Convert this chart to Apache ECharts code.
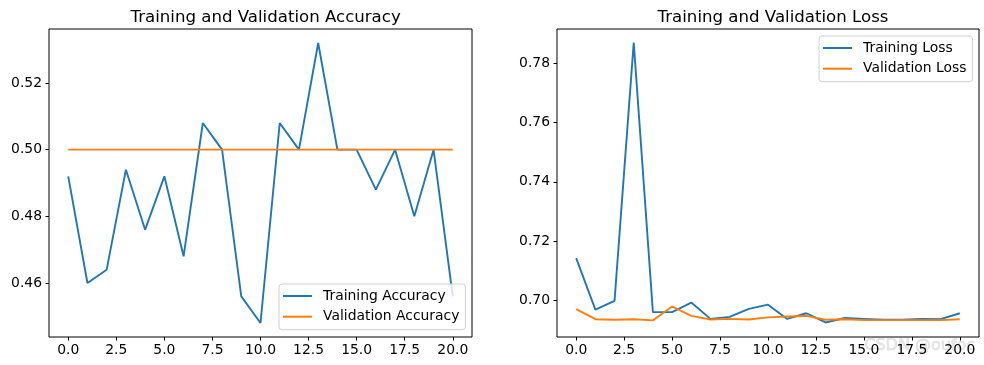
<!DOCTYPE html>
<html>
<head>
<meta charset="utf-8">
<script src="https://cdn.jsdelivr.net/npm/echarts@6/dist/echarts.min.js"></script>
<style>
html,body{margin:0;padding:0;background:#fff;}
#c{width:984px;height:365px;}
</style>
</head>
<body>
<div id="c"></div>
<script>
var epochs = [0,1,2,3,4,5,6,7,8,9,10,11,12,13,14,15,16,17,18,19,20];
var trainAcc = [0.492,0.460,0.464,0.494,0.476,0.492,0.468,0.508,0.500,0.456,0.448,0.508,0.500,0.532,0.500,0.500,0.488,0.500,0.480,0.500,0.456];
var valAcc = [0.5,0.5,0.5,0.5,0.5,0.5,0.5,0.5,0.5,0.5,0.5,0.5,0.5,0.5,0.5,0.5,0.5,0.5,0.5,0.5,0.5];
var trainLoss = [0.7143,0.6969,0.6999,0.7869,0.6961,0.6961,0.6993,0.6938,0.6945,0.6972,0.6986,0.6938,0.6957,0.6926,0.6941,0.6938,0.6935,0.6935,0.6938,0.6937,0.6957];
var valLoss = [0.6971,0.6937,0.6935,0.6937,0.6933,0.6980,0.6948,0.6936,0.6938,0.6936,0.6943,0.6946,0.6948,0.6935,0.6937,0.6934,0.6934,0.6934,0.6934,0.6934,0.6937];
var xTicks = [0,2.5,5,7.5,10,12.5,15,17.5,20];
var accTicks = [0.46,0.48,0.50,0.52];
var lossTicks = [0.70,0.72,0.74,0.76,0.78];

var BLUE = '#1f77b4', ORANGE = '#ff7f0e';
var FONT = 'DejaVu Sans';
function pairs(xs, ys){ return xs.map(function(x,i){return [x, ys[i]];}); }

function xAxisDef(gi){
  return {
    type:'value', gridIndex:gi, min:-1, max:21,
    axisLine:{show:false, onZero:false}, splitLine:{show:false},
    axisTick:{show:true, customValues:xTicks, length:3.5, lineStyle:{color:'#000', width:1}},
    axisLabel:{customValues:xTicks, margin:6, color:'#000', fontFamily:FONT, fontSize:13.9,
      formatter:function(v){return v.toFixed(1);}}
  };
}
function yAxisDef(gi, mn, mx, ticks){
  return {
    type:'value', gridIndex:gi, min:mn, max:mx,
    axisLine:{show:false, onZero:false}, splitLine:{show:false},
    axisTick:{show:true, customValues:ticks, length:3.5, lineStyle:{color:'#000', width:1}},
    axisLabel:{customValues:ticks, margin:7, color:'#000', fontFamily:FONT, fontSize:13.9,
      formatter:function(v){return v.toFixed(2);}}
  };
}
function lineSeries(name, xi, data, color){
  return {
    name:name, type:'line', xAxisIndex:xi, yAxisIndex:xi, data:data,
    symbol:'none', showSymbol:false, smooth:false,
    lineStyle:{color:color, width:1.9}, itemStyle:{color:color},
    emphasis:{disabled:true}
  };
}
var legendCommon = {
  orient:'vertical', icon:'rect', itemWidth:29, itemHeight:2, itemGap:6.7,
  itemStyle:{borderWidth:0},
  textStyle:{fontFamily:FONT, fontSize:13.9, color:'#000', lineHeight:14, padding:[0,0,0,6]},
  borderColor:'#d0d0d0', borderWidth:1, borderRadius:3,
  backgroundColor:'rgba(255,255,255,0.8)', padding:[5,6,6,4]
};

var chart = echarts.init(document.getElementById('c'), null, {renderer:'canvas'});
chart.setOption({
  animation:false,
  backgroundColor:'#fff',
  title:[
    {text:'Training and Validation Accuracy', left:260.6, top:4, textAlign:'center',
      textStyle:{fontFamily:FONT, fontSize:16.6, fontWeight:'normal', color:'#000'}},
    {text:'Training and Validation Loss', left:768, top:4, textAlign:'center',
      textStyle:{fontFamily:FONT, fontSize:16.6, fontWeight:'normal', color:'#000'}}
  ],
  grid:[
    {left:49, top:29, width:423, height:308, show:true, borderColor:'#000', borderWidth:1, backgroundColor:'transparent'},
    {left:557, top:29, width:422, height:308, show:true, borderColor:'#000', borderWidth:1, backgroundColor:'transparent'}
  ],
  xAxis:[xAxisDef(0), xAxisDef(1)],
  yAxis:[yAxisDef(0,0.4438,0.5362,accTicks), yAxisDef(1,0.6877,0.7915,lossTicks)],
  legend:[
    Object.assign({}, legendCommon, {left:279, top:284, data:['Training Accuracy','Validation Accuracy']}),
    Object.assign({}, legendCommon, {left:819, top:36, data:['Training Loss','Validation Loss']})
  ],
  series:[
    lineSeries('Training Accuracy',0,pairs(epochs,trainAcc),BLUE),
    lineSeries('Validation Accuracy',0,pairs(epochs,valAcc),ORANGE),
    lineSeries('Training Loss',1,pairs(epochs,trainLoss),BLUE),
    lineSeries('Validation Loss',1,pairs(epochs,valLoss),ORANGE)
  ],
  graphic:[
    {type:'text', left:864, top:338, silent:true,
      style:{text:'CSDN @oufoc', fontFamily:FONT, fontSize:16, fill:'rgba(215,215,215,0.5)', stroke:'rgba(170,170,170,0.45)', lineWidth:0.5}}
  ]
});
</script>
</body>
</html>
